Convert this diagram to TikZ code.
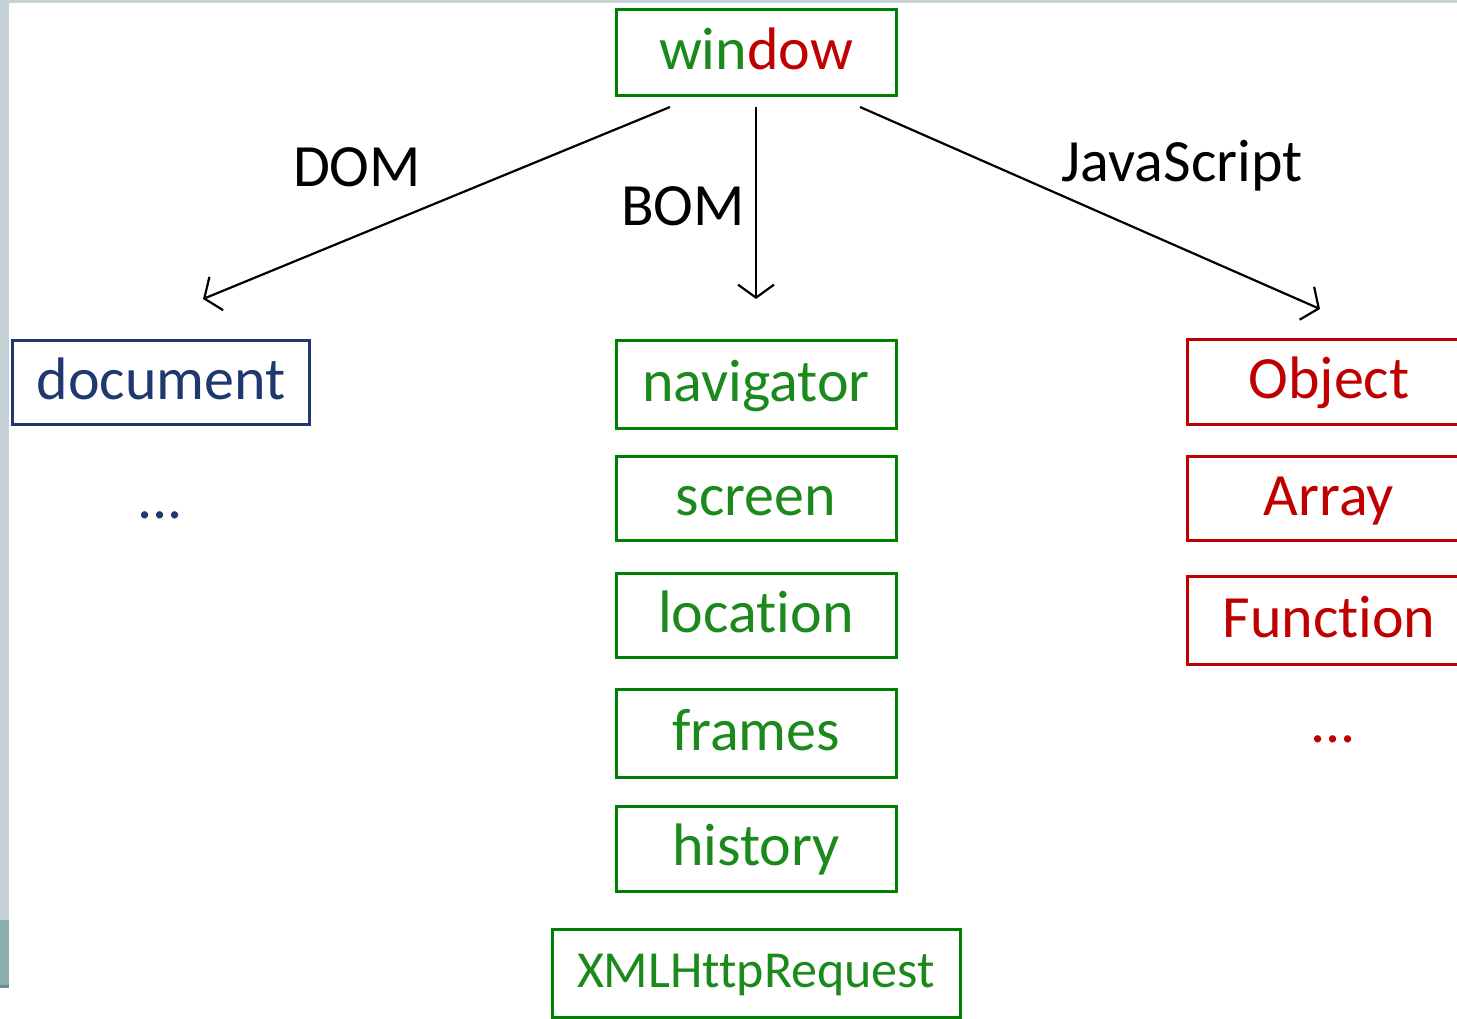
\documentclass[tikz,border=0pt]{standalone}
\usepackage{fontspec}
\setmainfont{Carlito}[Ligatures=NoCommon]
\usetikzlibrary{arrows.meta}
\definecolor{bgreen}{HTML}{008000}
\definecolor{tgreen}{HTML}{1C891C}
\definecolor{bred}{HTML}{C00000}
\definecolor{bnavy}{HTML}{1F3870}
\definecolor{stripgray}{HTML}{C6D1D8}
\definecolor{stripteal}{HTML}{8AB0AE}
\tikzset{
  box/.style={draw, line width=3pt, minimum width=280pt, minimum height=86pt,
    inner sep=0pt, font=\fontsize{60}{70}\selectfont, text height=47pt, text depth=13pt},
  gbox/.style={box, draw=bgreen, text=tgreen},
  rbox/.style={box, draw=bred, text=bred},
  nbox/.style={box, draw=bnavy, text=bnavy},
  lbl/.style={font=\fontsize{60}{70}\selectfont, anchor=base, inner sep=0pt},
  conn/.style={line width=2.2pt, -{Straight Barb[length=13pt,width=36pt,line width=2.2pt]}}
}
\begin{document}
\begin{tikzpicture}[x=1pt,y=-1pt]
\useasboundingbox (0,0) rectangle (1457,1019);
\clip (0,0) rectangle (1457,1019);
\fill[white] (0,0) rectangle (1457,1019);
% frame strips
\fill[stripgray] (0,0) rectangle (1457,3.5);
\fill[stripgray] (0,0) rectangle (8.5,920);
\fill[stripteal] (0,920) rectangle (8.5,985);
\fill[stripteal!80!black] (0,985) rectangle (8.5,988);

% nodes
\node[gbox] (window) at (756,52.5) {\textcolor{tgreen}{win}\textcolor{bred}{dow}};
\node[nbox, minimum width=297pt, minimum height=84pt] (document) at (161,382) {document};
\node[lbl, text=bnavy] (ddots) at (160,518) {...};

\node[gbox, minimum height=88pt] (navigator) at (756,384) {navigator};
\node[gbox, minimum height=84pt] (screen) at (756,498) {screen};
\node[gbox, minimum height=84pt] (location) at (756,615) {location};
\node[gbox, minimum height=88pt] (frames) at (756,733) {frames};
\node[gbox, minimum height=85pt] (history) at (756,848.5) {history};
\node[gbox, minimum width=408pt, minimum height=88pt, font=\fontsize{52}{60}\selectfont,
  text height=40pt, text depth=12pt] (xhr) at (756,973) {XMLHttpRequest};

\node[rbox, minimum width=284pt, minimum height=85pt] (object) at (1329,381.5) {Object};
\node[rbox, minimum width=284pt, minimum height=84pt] (array) at (1329,498) {Array};
\node[rbox, minimum width=284pt, minimum height=88pt] (function) at (1329,620) {Function};
\node[lbl, text=bred] (rdots) at (1333,742) {...};

% connector endpoints
\coordinate (domS) at (670,107);
\coordinate (domE) at (203,299);
\coordinate (bomS) at (756,107);
\coordinate (bomE) at (756,299);
\coordinate (jsS) at (860,107);
\coordinate (jsE) at (1320,309);

\draw[conn] (domS) -- (domE);
\draw[conn] (bomS) -- (bomE);
\draw[conn] (jsS) -- (jsE);

% labels
\node[lbl] (domlbl) at (357,187) {DOM};
\node[lbl] (bomlbl) at (683,226) {BOM};
\node[lbl] (jslbl) at (1182,182) {JavaScript};
\end{tikzpicture}
\end{document}
